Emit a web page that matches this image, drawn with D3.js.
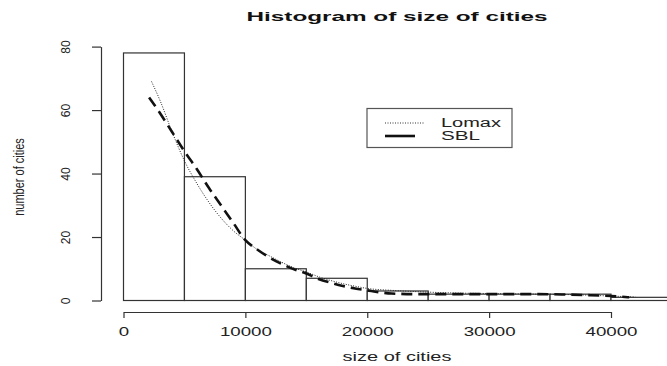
<!DOCTYPE html>
<html>
<head>
<meta charset="utf-8">
<script src="https://cdn.jsdelivr.net/npm/d3@7"></script>
<style>
  body { margin: 0; background: #fff; }
  svg { display: block; font-family: "Liberation Sans", Arial, sans-serif; }
</style>
</head>
<body>
<div id="chart"></div>
<script>
// histogram bins (break = 5000)
const binStarts = [0, 5000, 10000, 15000, 20000, 25000, 30000, 35000, 40000];
const binWidth = 5000;
const counts = [78, 39, 10, 7, 3, 2, 2, 2, 1];

// fitted curves
const lomaxX = [2300, 3000, 4000, 5000, 6000, 7000, 8000, 9000, 10000, 11000, 12000, 13000, 14000, 15000,
  16000, 17000, 18000, 19000, 20000, 22000, 24000, 26000, 28000, 30000, 32000, 34000, 36000, 38000, 40000, 42000];
const lomaxY = [69, 63, 53, 44, 37, 31, 26, 22, 19, 16, 14, 12, 10.3, 9,
  7.5, 6.3, 5.3, 4.5, 3.8, 3.2, 2.8, 2.5, 2.3, 2.2, 2.1, 2, 1.9, 1.7, 1.4, 1.1];

const sblX = [2100, 3000, 4000, 5000, 6000, 7000, 8000, 9000, 10000, 11000, 12000, 13000, 14000, 15000,
  16000, 17000, 18000, 19000, 20000, 21000, 22000, 24000, 26000, 30000, 34000, 36000, 38000, 40000, 41500];
const sblY = [64, 59, 53, 47, 41.5, 35.5, 30, 24.5, 19, 16, 13.5, 11.5, 9.8, 8.5,
  6.8, 5.6, 4.6, 3.8, 3.2, 2.6, 2.2, 2, 2, 2, 2, 1.9, 1.7, 1.4, 1];

const xTicks = [0, 10000, 20000, 30000, 40000];
const yTicks = [0, 20, 40, 60, 80];
const seriesNames = ["Lomax", "SBL"];

const W = 667, H = 366;
const svg = d3.select("#chart").append("svg")
  .attr("width", W)
  .attr("height", H);

const x = d3.scaleLinear().domain([0, 40000]).range([123.5, 611]);
const y = d3.scaleLinear().domain([0, 80]).range([300.5, 46.6]);

// bars
svg.append("g").selectAll("rect")
  .data(counts)
  .enter().append("rect")
  .attr("x", (d, i) => x(binStarts[i]))
  .attr("y", d => y(d))
  .attr("width", x(binWidth) - x(0))
  .attr("height", d => y(0) - y(d))
  .style("fill", "#fff")
  .style("stroke", "#333")
  .style("stroke-width", 1.2);

const line = d3.line()
  .curve(d3.curveMonotoneX)
  .x(d => x(d[0]))
  .y(d => y(d[1]));

svg.append("path")
  .attr("d", line(lomaxX.map((v, i) => [v, lomaxY[i]])))
  .style("fill", "none")
  .style("stroke", "#222")
  .style("stroke-width", 1)
  .style("stroke-dasharray", "1,1.5");

svg.append("path")
  .attr("d", line(sblX.map((v, i) => [v, sblY[i]])))
  .style("fill", "none")
  .style("stroke", "#111")
  .style("stroke-width", 2.6)
  .style("stroke-dasharray", "11,6");

// x axis
const xAxis = svg.append("g")
  .attr("transform", "translate(0,312)")
  .call(d3.axisBottom(x).tickValues(xTicks).tickSize(6).tickSizeOuter(0).tickPadding(9)
    .tickFormat(d3.format("d")));
xAxis.selectAll("path, line").style("stroke", "#333").style("stroke-width", 1.2);
xAxis.selectAll("text")
  .style("font-size", "12px")
  .style("fill", "#222")
  .attr("textLength", d => String(d).length * 10.4)
  .attr("lengthAdjust", "spacingAndGlyphs");

// y axis
const yAxis = svg.append("g")
  .attr("transform", "translate(101,0)")
  .call(d3.axisLeft(y).tickValues(yTicks).tickSize(9).tickSizeOuter(0));
yAxis.selectAll("path, line").style("stroke", "#333").style("stroke-width", 1.2);
yAxis.selectAll("text")
  .attr("transform", "rotate(-90)")
  .attr("x", 0)
  .attr("y", -31.5)
  .attr("dy", null)
  .attr("text-anchor", "middle")
  .style("font-size", "12px")
  .style("fill", "#222");

// titles
svg.append("text")
  .attr("x", 397)
  .attr("y", 21)
  .attr("text-anchor", "middle")
  .attr("textLength", 301)
  .attr("lengthAdjust", "spacingAndGlyphs")
  .style("font-size", "13px")
  .style("font-weight", "bold")
  .style("fill", "#111")
  .text("Histogram of size of cities");

svg.append("text")
  .attr("x", 397)
  .attr("y", 361)
  .attr("text-anchor", "middle")
  .attr("textLength", 109)
  .attr("lengthAdjust", "spacingAndGlyphs")
  .style("font-size", "12.5px")
  .style("fill", "#222")
  .text("size of cities");

// picture is stretched sideways, so the rotated title gets wider glyphs
svg.append("text")
  .attr("transform", "translate(23.5,177) rotate(-90) scale(1,1.3)")
  .attr("text-anchor", "middle")
  .style("font-size", "11px")
  .style("fill", "#222")
  .text("number of cities");

// legend
const legend = svg.append("g");
legend.append("rect")
  .attr("x", 367).attr("y", 108.5)
  .attr("width", 145).attr("height", 39)
  .style("fill", "#fff")
  .style("stroke", "#555")
  .style("stroke-width", 1.2);

legend.append("line")
  .attr("x1", 385).attr("x2", 425).attr("y1", 123).attr("y2", 123)
  .style("stroke", "#333").style("stroke-width", 1).style("stroke-dasharray", "1,1.5");
legend.append("line")
  .attr("x1", 385).attr("x2", 415).attr("y1", 136).attr("y2", 136)
  .style("stroke", "#111").style("stroke-width", 2.6);

legend.selectAll(".lab")
  .data(seriesNames)
  .enter().append("text")
  .attr("class", "lab")
  .attr("x", 441)
  .attr("y", (d, i) => 127 + i * 13)
  .attr("textLength", (d, i) => i === 0 ? 60 : 39)
  .attr("lengthAdjust", "spacingAndGlyphs")
  .style("font-size", "12px")
  .style("fill", "#222")
  .text(d => d);
</script>
</body>
</html>
